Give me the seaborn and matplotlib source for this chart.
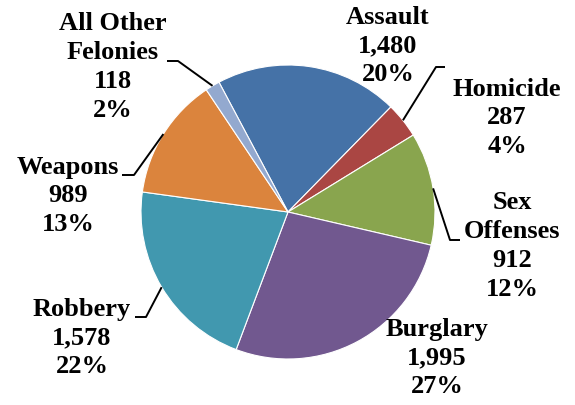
import numpy as np
import matplotlib
matplotlib.use("Agg")
import matplotlib.pyplot as plt
import seaborn as sns

# ====== data ======
categories = ["Assault", "Homicide", "Sex\nOffenses", "Burglary",
              "Robbery", "Weapons", "All Other\nFelonies"]
counts = [1480, 287, 912, 1995, 1578, 989, 118]
percents = [20, 4, 12, 27, 22, 13, 2]
colors = ["#4572A7", "#AA4643", "#89A54E", "#71588F",
          "#4198AF", "#DB843D", "#93A9CF"]

# ====== style ======
sns.set_theme(style="white")
plt.rcParams["font.family"] = ["Liberation Serif", "DejaVu Serif"]

# pixel scale: pie center (288, 212), radius 147 px on a 575x405 canvas
R_PX, CX, CY = 147.0, 288.0, 212.0
W, H = 575, 405

def px(x, y):
    return ((x - CX) / R_PX, (CY - y) / R_PX)

# label anchor positions (pixels) and leader elbows (None = no leader)
label_pos = [px(388, 46), px(507, 118), px(512, 246), px(437, 358),
             px(82, 338), px(68, 196), px(113, 67)]
leader_pts = [None,
              (px(436, 67), px(445, 67)),
              (px(450, 240), px(460, 240)),
              None,
              (px(146, 317), px(135, 317)),
              (px(134, 175), px(122, 175)),
              (px(178, 61), px(167, 61))]

fig = plt.figure(figsize=(W / 100, H / 100), dpi=100)
ax = fig.add_axes([0, 0, 1, 1])

wedges, _ = ax.pie(counts, colors=colors, startangle=118, counterclock=False,
                   radius=1, center=(0, 0), frame=False,
                   wedgeprops=dict(edgecolor="white", linewidth=0.8))

for w, name, n, pct, pos, lead in zip(wedges, categories, counts, percents,
                                      label_pos, leader_pts):
    ax.text(pos[0], pos[1], f"{name}\n{n:,}\n{pct}%", ha="center", va="center",
            multialignment="center", fontsize=19, fontweight="bold",
            color="black", linespacing=1.32)
    if lead is not None:
        mid = np.deg2rad((w.theta1 + w.theta2) / 2)
        start = (np.cos(mid), np.sin(mid))
        xs = [start[0], lead[0][0], lead[1][0]]
        ys = [start[1], lead[0][1], lead[1][1]]
        ax.plot(xs, ys, color="black", linewidth=1.4, solid_capstyle="butt")

ax.set_xlim(-CX / R_PX, (W - CX) / R_PX)
ax.set_ylim(-(H - CY) / R_PX, CY / R_PX)
ax.set_aspect("equal")
ax.axis("off")

fig.savefig("out.png", dpi=100)
